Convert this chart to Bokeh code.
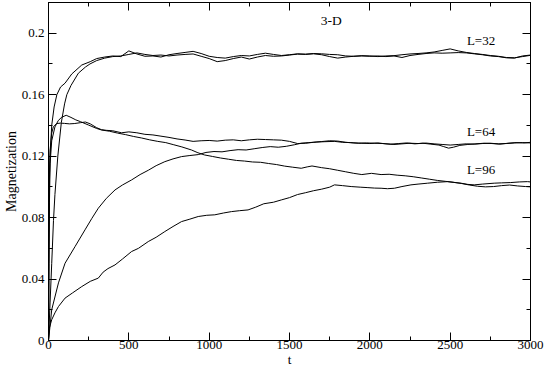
from bokeh.plotting import figure
from bokeh.models import Range1d, LinearAxis, SingleIntervalTicker, CustomJSTickFormatter, Label
from bokeh.embed import file_html
from bokeh.resources import INLINE

# ---- data ----
t_32a = [0, 2, 5, 10, 20, 35, 52, 75, 103, 145, 207, 260, 300, 350, 400, 450, 500, 550, 600, 650, 700, 750, 800, 850, 900, 950, 1000, 1050, 1100, 1150, 1200, 1250, 1300, 1350, 1400, 1450, 1500, 1550, 1600, 1650, 1700, 1750, 1800, 1850, 1900, 1950, 2000, 2050, 2100, 2150, 2200, 2250, 2300, 2350, 2400, 2450, 2500, 2550, 2600, 2650, 2700, 2750, 2800, 2850, 2900, 2950, 3000]
m_32a = [0, 0.06, 0.1, 0.12, 0.14, 0.152, 0.16, 0.165, 0.1675, 0.1735, 0.1793, 0.1815, 0.1835, 0.1845, 0.1852, 0.1848, 0.1885, 0.1865, 0.1850, 0.1852, 0.1845, 0.1860, 0.1868, 0.1875, 0.1882, 0.1868, 0.1850, 0.1842, 0.1838, 0.1848, 0.1855, 0.1852, 0.1862, 0.1870, 0.1862, 0.1855, 0.1860, 0.1866, 0.1864, 0.1868, 0.1866, 0.1862, 0.1860, 0.1852, 0.1850, 0.1854, 0.1852, 0.1848, 0.1852, 0.1854, 0.1860, 0.1865, 0.1868, 0.1872, 0.1878, 0.1888, 0.1898, 0.1885, 0.1875, 0.1868, 0.1862, 0.1855, 0.1850, 0.1842, 0.1840, 0.1848, 0.1856]

t_32b = [0, 10, 20, 31, 40, 58, 80, 100, 114, 140, 186, 230, 258, 300, 350, 400, 450, 500, 550, 600, 650, 700, 750, 800, 850, 900, 950, 1000, 1050, 1100, 1150, 1200, 1250, 1300, 1350, 1400, 1450, 1500, 1550, 1600, 1650, 1700, 1750, 1800, 1850, 1900, 1950, 2000, 2050, 2100, 2150, 2200, 2250, 2300, 2350, 2400, 2450, 2500, 2550, 2600, 2650, 2700, 2750, 2800, 2850, 2900, 2950, 3000]
m_32b = [0, 0.025, 0.05, 0.078, 0.095, 0.12, 0.142, 0.154, 0.16, 0.166, 0.174, 0.178, 0.18, 0.1822, 0.1838, 0.1848, 0.1852, 0.1862, 0.1872, 0.1862, 0.1855, 0.1858, 0.1852, 0.1858, 0.1862, 0.1865, 0.1850, 0.1835, 0.1815, 0.1822, 0.1835, 0.1845, 0.1832, 0.1845, 0.1855, 0.1850, 0.1852, 0.1858, 0.1864, 0.1862, 0.1866, 0.1860, 0.1848, 0.1838, 0.1845, 0.1850, 0.1852, 0.1850, 0.1852, 0.1848, 0.1852, 0.1842, 0.1855, 0.1862, 0.1868, 0.1872, 0.1870, 0.1872, 0.1874, 0.1872, 0.1866, 0.1860, 0.1852, 0.1848, 0.1840, 0.1838, 0.1852, 0.1858]

t_64a = [0, 3, 6, 10, 20, 30, 50, 75, 100, 130, 160, 200, 230, 260, 300, 330, 360, 400, 455, 500, 550, 600, 650, 700, 750, 800, 850, 900, 950, 1000, 1050, 1100, 1150, 1200, 1250, 1300, 1350, 1400, 1450, 1500, 1550, 1600, 1650, 1700, 1750, 1800, 1850, 1900, 1950, 2000, 2050, 2100, 2150, 2200, 2250, 2300, 2350, 2400, 2450, 2500, 2550, 2600, 2650, 2700, 2750, 2800, 2850, 2900, 2950, 3000]
m_64a = [0, 0.07, 0.108, 0.124, 0.135, 0.139, 0.1412, 0.1415, 0.1413, 0.1410, 0.1412, 0.1418, 0.1422, 0.1410, 0.1385, 0.1372, 0.1368, 0.1365, 0.1352, 0.1358, 0.1352, 0.1342, 0.1338, 0.1330, 0.1322, 0.1312, 0.1305, 0.1296, 0.1300, 0.1302, 0.1298, 0.1304, 0.1306, 0.1300, 0.1306, 0.1310, 0.1308, 0.1306, 0.1304, 0.1296, 0.1282, 0.1284, 0.1290, 0.1295, 0.1300, 0.1298, 0.1290, 0.1286, 0.1284, 0.1282, 0.1286, 0.1280, 0.1276, 0.1280, 0.1284, 0.1282, 0.1285, 0.1280, 0.1276, 0.1272, 0.1276, 0.1280, 0.1278, 0.1282, 0.1284, 0.1280, 0.1282, 0.1286, 0.1288, 0.1286]

t_64b = [0, 20, 62, 103, 165, 227, 270, 310, 360, 414, 460, 517, 570, 621, 670, 724, 775, 828, 880, 932, 980, 1030, 1080, 1130, 1180, 1230, 1280, 1330, 1380, 1430, 1480, 1530, 1573, 1620, 1670, 1720, 1780, 1830, 1880, 1930, 1980, 2030, 2080, 2130, 2180, 2230, 2280, 2330, 2380, 2430, 2460, 2490, 2520, 2560, 2610, 2660, 2710, 2760, 2810, 2860, 2910, 2960, 3000]
m_64b = [0, 0.02, 0.0375, 0.0503, 0.0611, 0.072, 0.0795, 0.0861, 0.0925, 0.098, 0.1012, 0.1045, 0.1080, 0.1108, 0.1138, 0.1164, 0.1182, 0.1197, 0.1204, 0.1210, 0.1224, 0.1230, 0.1228, 0.1236, 0.1242, 0.1240, 0.1248, 0.1256, 0.1262, 0.1258, 0.1264, 0.1274, 0.1284, 0.1288, 0.1292, 0.1294, 0.1296, 0.1290, 0.1288, 0.1284, 0.1286, 0.1284, 0.1282, 0.1278, 0.1282, 0.1286, 0.1280, 0.1284, 0.1278, 0.1272, 0.1262, 0.1252, 0.1258, 0.1270, 0.1276, 0.1280, 0.1284, 0.1282, 0.1278, 0.1284, 0.1288, 0.1286, 0.1290]

t_96a = [0, 3, 6, 10, 20, 40, 60, 80, 110, 140, 170, 200, 250, 300, 331, 380, 430, 480, 530, 580, 630, 680, 730, 780, 830, 890, 930, 970, 1020, 1070, 1120, 1170, 1220, 1270, 1320, 1370, 1420, 1470, 1520, 1573, 1610, 1640, 1700, 1750, 1800, 1850, 1900, 1950, 2010, 2070, 2120, 2170, 2220, 2270, 2320, 2370, 2420, 2470, 2520, 2570, 2620, 2670, 2720, 2770, 2820, 2870, 2920, 2970, 3000]
m_96a = [0, 0.05, 0.09, 0.115, 0.13, 0.139, 0.143, 0.1452, 0.1466, 0.1452, 0.1436, 0.1424, 0.1402, 0.1380, 0.1370, 0.1362, 0.1350, 0.1340, 0.1328, 0.1318, 0.1306, 0.1296, 0.1288, 0.1274, 0.1260, 0.1240, 0.1222, 0.1208, 0.1198, 0.1188, 0.1180, 0.1172, 0.1168, 0.1162, 0.1160, 0.1152, 0.1145, 0.1135, 0.1128, 0.1121, 0.1130, 0.1136, 0.1125, 0.1118, 0.1108, 0.1098, 0.1088, 0.1080, 0.1088, 0.1080, 0.1082, 0.1076, 0.1072, 0.1066, 0.1058, 0.1050, 0.1042, 0.1036, 0.1030, 0.1022, 0.1012, 0.1004, 0.1000, 0.1002, 0.1008, 0.1012, 0.1006, 0.1002, 0.1000]

t_96b = [0, 5, 20, 40, 62, 103, 150, 207, 260, 310, 340, 370, 414, 460, 517, 560, 621, 670, 724, 775, 828, 880, 932, 985, 1035, 1090, 1139, 1190, 1242, 1290, 1340, 1400, 1449, 1500, 1550, 1600, 1650, 1700, 1750, 1780, 1830, 1884, 1940, 1988, 2030, 2070, 2110, 2153, 2200, 2256, 2300, 2360, 2420, 2484, 2530, 2567, 2610, 2650, 2700, 2774, 2820, 2877, 2930, 2981, 3000]
m_96b = [0, 0.008, 0.0135, 0.018, 0.0221, 0.0276, 0.031, 0.0351, 0.0385, 0.0406, 0.0445, 0.0468, 0.0492, 0.0530, 0.0579, 0.0600, 0.0644, 0.0672, 0.0709, 0.0742, 0.0774, 0.0790, 0.0807, 0.0815, 0.0818, 0.0830, 0.0839, 0.0845, 0.0850, 0.0868, 0.0890, 0.0900, 0.0915, 0.0930, 0.0950, 0.0962, 0.0975, 0.0985, 0.0998, 0.1013, 0.1008, 0.1002, 0.0998, 0.0995, 0.0992, 0.0991, 0.0988, 0.0991, 0.1002, 0.1013, 0.1018, 0.1024, 0.1030, 0.1034, 0.1028, 0.1024, 0.1016, 0.1013, 0.1018, 0.1024, 0.1026, 0.1028, 0.1032, 0.1034, 0.1032]

title_text = "3-D"
x_title = "t"
y_title = "Magnetization"
curve_labels = ["L=32", "L=64", "L=96"]
label_t = [2604, 2604, 2604]
label_m = [0.1954, 0.1362, 0.1113]

FONT = "Liberation Serif"

p = figure(width=545, height=369, output_backend="svg", toolbar_location=None,
           x_range=Range1d(0, 3000), y_range=Range1d(0, 0.22),
           min_border_left=47, min_border_right=15, min_border_top=2, min_border_bottom=28,
           background_fill_color="white", border_fill_color="white")
p.grid.visible = False
p.outline_line_color = "black"
p.outline_line_width = 1

for tt, mm in [(t_32a, m_32a), (t_32b, m_32b), (t_64a, m_64a), (t_64b, m_64b), (t_96a, m_96a), (t_96b, m_96b)]:
    p.line(tt, mm, line_color="black", line_width=1)

def style_axis(ax):
    ax.major_tick_in = 8
    ax.major_tick_out = 0
    ax.minor_tick_in = 4
    ax.minor_tick_out = 0
    ax.axis_line_color = "black"
    ax.major_tick_line_color = "black"
    ax.minor_tick_line_color = "black"
    ax.major_label_text_font = FONT
    ax.major_label_text_font_size = "13px"
    ax.major_label_text_color = "black"
    ax.axis_label_text_font = FONT
    ax.axis_label_text_font_style = "normal"
    ax.axis_label_text_color = "black"

p.xaxis.ticker = SingleIntervalTicker(interval=500, num_minor_ticks=2)
p.yaxis.ticker = SingleIntervalTicker(interval=0.04, num_minor_ticks=2)
p.yaxis.formatter = CustomJSTickFormatter(code="return (Math.round(tick*100)/100).toString();")
style_axis(p.xaxis[0])
style_axis(p.yaxis[0])
p.xaxis.axis_label = x_title
p.yaxis.axis_label = y_title
p.xaxis.axis_label_text_font_size = "13px"
p.yaxis.axis_label_text_font_size = "14px"
p.xaxis.major_label_standoff = 0
p.xaxis.axis_label_standoff = 0
p.yaxis.major_label_standoff = 4
p.yaxis.axis_label_standoff = 0

blank = CustomJSTickFormatter(code="return '';")
top = LinearAxis(ticker=SingleIntervalTicker(interval=500, num_minor_ticks=2), formatter=blank)
style_axis(top)
top.major_label_standoff = 0
p.add_layout(top, "above")
right = LinearAxis(ticker=SingleIntervalTicker(interval=0.04, num_minor_ticks=2), formatter=blank)
style_axis(right)
right.major_label_standoff = 0
p.add_layout(right, "right")

p.add_layout(Label(x=1760, y=0.2086, text=title_text, text_align="center", text_baseline="middle",
                   text_font=FONT, text_font_size="13.5px", text_color="black"))
for txt, xx, yy in zip(curve_labels, label_t, label_m):
    p.add_layout(Label(x=xx, y=yy, text=txt, text_align="left", text_baseline="middle",
                       text_font=FONT, text_font_size="13px", text_color="black"))

open("out.html", "w").write(file_html(p, INLINE))
